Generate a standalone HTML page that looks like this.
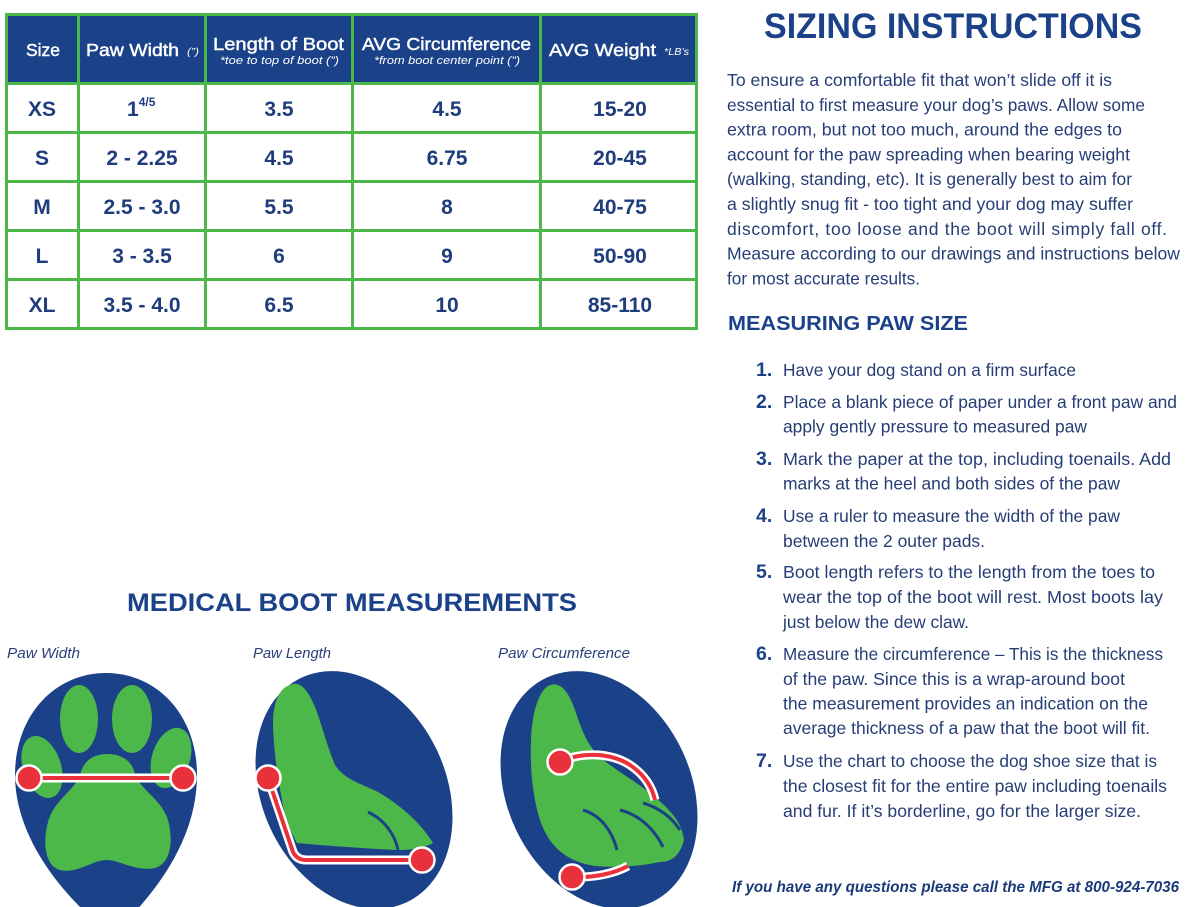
<!DOCTYPE html>
<html>
<head>
<meta charset="utf-8">
<style>
html,body{margin:0;padding:0;background:#fff;}
svg{display:block;}
text{font-family:"Liberation Sans",sans-serif;}
</style>
</head>
<body>
<svg width="1200" height="907" viewBox="0 0 1200 907" xmlns="http://www.w3.org/2000/svg">
<rect x="0" y="0" width="1200" height="907" fill="#ffffff"/>

<!-- TABLE -->
<rect x="5" y="13" width="693" height="317" fill="#4db84a"/>
<g fill="#1b4289">
<rect x="8" y="16" width="69" height="66"/>
<rect x="80" y="16" width="124" height="66"/>
<rect x="207" y="16" width="144" height="66"/>
<rect x="354" y="16" width="185" height="66"/>
<rect x="542" y="16" width="153" height="66"/>
</g>
<g fill="#ffffff">
<rect x="8" y="85" width="69" height="46"/><rect x="80" y="85" width="124" height="46"/><rect x="207" y="85" width="144" height="46"/><rect x="354" y="85" width="185" height="46"/><rect x="542" y="85" width="153" height="46"/>
<rect x="8" y="134" width="69" height="46"/><rect x="80" y="134" width="124" height="46"/><rect x="207" y="134" width="144" height="46"/><rect x="354" y="134" width="185" height="46"/><rect x="542" y="134" width="153" height="46"/>
<rect x="8" y="183" width="69" height="46"/><rect x="80" y="183" width="124" height="46"/><rect x="207" y="183" width="144" height="46"/><rect x="354" y="183" width="185" height="46"/><rect x="542" y="183" width="153" height="46"/>
<rect x="8" y="232" width="69" height="46"/><rect x="80" y="232" width="124" height="46"/><rect x="207" y="232" width="144" height="46"/><rect x="354" y="232" width="185" height="46"/><rect x="542" y="232" width="153" height="46"/>
<rect x="8" y="281" width="69" height="46"/><rect x="80" y="281" width="124" height="46"/><rect x="207" y="281" width="144" height="46"/><rect x="354" y="281" width="185" height="46"/><rect x="542" y="281" width="153" height="46"/>
</g>

<!-- header text -->
<g fill="#ffffff" stroke="#ffffff" stroke-width="0.45">
<text x="26" y="56" font-size="17.5" textLength="34" lengthAdjust="spacingAndGlyphs">Size</text>
<text x="86" y="56" font-size="17.5" textLength="93" lengthAdjust="spacingAndGlyphs">Paw Width</text>
<text x="213" y="50" font-size="17.5" textLength="131" lengthAdjust="spacingAndGlyphs">Length of Boot</text>
<text x="362" y="50" font-size="17.5" textLength="169" lengthAdjust="spacingAndGlyphs">AVG Circumference</text>
<text x="549" y="56" font-size="17.5" textLength="107" lengthAdjust="spacingAndGlyphs">AVG Weight</text>
</g>
<g fill="#ffffff">
<text x="187" y="55" font-size="10" font-style="italic" textLength="12" lengthAdjust="spacingAndGlyphs">(”)</text>
<text x="220" y="64" font-size="11" font-style="italic" textLength="119" lengthAdjust="spacingAndGlyphs">*toe to top of boot (”)</text>
<text x="374" y="64" font-size="11" font-style="italic" textLength="146" lengthAdjust="spacingAndGlyphs">*from boot center point (”)</text>
<text x="664" y="55" font-size="10" font-style="italic" textLength="25" lengthAdjust="spacingAndGlyphs">*LB’s</text>
</g>

<!-- body text -->
<g fill="#1f3c7c" font-size="21" font-weight="bold" text-anchor="middle">
<text x="42" y="116">XS</text>
<text x="279" y="116">3.5</text>
<text x="447" y="116">4.5</text>
<text x="620" y="116">15-20</text>

<text x="42" y="165">S</text>
<text x="142" y="165">2 - 2.25</text>
<text x="279" y="165">4.5</text>
<text x="447" y="165">6.75</text>
<text x="620" y="165">20-45</text>

<text x="42" y="214">M</text>
<text x="142" y="214">2.5 - 3.0</text>
<text x="279" y="214">5.5</text>
<text x="447" y="214">8</text>
<text x="620" y="214">40-75</text>

<text x="42" y="263">L</text>
<text x="142" y="263">3 - 3.5</text>
<text x="279" y="263">6</text>
<text x="447" y="263">9</text>
<text x="620" y="263">50-90</text>

<text x="42" y="312">XL</text>
<text x="142" y="312">3.5 - 4.0</text>
<text x="279" y="312">6.5</text>
<text x="447" y="312">10</text>
<text x="620" y="312">85-110</text>
</g>
<text x="127" y="116" fill="#1f3c7c" font-size="21" font-weight="bold">1<tspan font-size="12" dy="-10">4/5</tspan></text>

<!-- RIGHT SIDE -->
<text x="764" y="38" fill="#1b4289" font-size="35" font-weight="bold" textLength="378" lengthAdjust="spacingAndGlyphs">SIZING INSTRUCTIONS</text>

<g fill="#263d75" font-size="17.5">
<text x="727" y="86" textLength="385" lengthAdjust="spacingAndGlyphs">To ensure a comfortable fit that won’t slide off it is</text>
<text x="727" y="110.8" textLength="418" lengthAdjust="spacingAndGlyphs">essential to first measure your dog’s paws. Allow some</text>
<text x="727" y="135.6" textLength="395" lengthAdjust="spacingAndGlyphs">extra room, but not too much, around the edges to</text>
<text x="727" y="160.4" textLength="403" lengthAdjust="spacingAndGlyphs">account for the paw spreading when bearing weight</text>
<text x="727" y="185.2" textLength="405" lengthAdjust="spacingAndGlyphs">(walking, standing, etc). It is generally best to aim for</text>
<text x="727" y="210" textLength="406" lengthAdjust="spacingAndGlyphs">a slightly snug fit - too tight and your dog may suffer</text>
<text x="727" y="234.8" textLength="440" lengthAdjust="spacing">discomfort, too loose and the boot will simply fall off.</text>
<text x="727" y="259.6" textLength="453" lengthAdjust="spacingAndGlyphs">Measure according to our drawings and instructions below</text>
<text x="727" y="284.4" textLength="193" lengthAdjust="spacingAndGlyphs">for most accurate results.</text>
</g>

<text x="728" y="330" fill="#1b4289" font-size="20.5" font-weight="bold" textLength="240" lengthAdjust="spacingAndGlyphs">MEASURING PAW SIZE</text>

<g fill="#1b4289" font-size="19.5" font-weight="bold">
<text x="756" y="376">1.</text>
<text x="756" y="408">2.</text>
<text x="756" y="465">3.</text>
<text x="756" y="522">4.</text>
<text x="756" y="578">5.</text>
<text x="756" y="660">6.</text>
<text x="756" y="767">7.</text>
</g>

<g fill="#263d75" font-size="17.5">
<text x="783" y="376" textLength="293" lengthAdjust="spacingAndGlyphs">Have your dog stand on a firm surface</text>
<text x="783" y="408" textLength="394" lengthAdjust="spacingAndGlyphs">Place a blank piece of paper under a front paw and</text>
<text x="783" y="432.5" textLength="304" lengthAdjust="spacingAndGlyphs">apply gently pressure to measured paw</text>
<text x="783" y="465" textLength="388" lengthAdjust="spacingAndGlyphs">Mark the paper at the top, including toenails. Add</text>
<text x="783" y="489.5" textLength="337" lengthAdjust="spacingAndGlyphs">marks at the heel and both sides of the paw</text>
<text x="783" y="522" textLength="337" lengthAdjust="spacingAndGlyphs">Use a ruler to measure the width of the paw</text>
<text x="783" y="547" textLength="202" lengthAdjust="spacingAndGlyphs">between the 2 outer pads.</text>
<text x="783" y="578" textLength="372" lengthAdjust="spacingAndGlyphs">Boot length refers to the length from the toes to</text>
<text x="783" y="603" textLength="380" lengthAdjust="spacingAndGlyphs">wear the top of the boot will rest.  Most boots lay</text>
<text x="783" y="628" textLength="186" lengthAdjust="spacingAndGlyphs">just below the dew claw.</text>
<text x="783" y="660" textLength="380" lengthAdjust="spacingAndGlyphs">Measure the circumference – This is the thickness</text>
<text x="783" y="685" textLength="342" lengthAdjust="spacingAndGlyphs">of the paw.  Since this is a wrap-around boot</text>
<text x="783" y="709.5" textLength="365" lengthAdjust="spacingAndGlyphs">the measurement provides an indication on the</text>
<text x="783" y="734" textLength="367" lengthAdjust="spacingAndGlyphs">average thickness of a paw that the boot will fit.</text>
<text x="783" y="767" textLength="374" lengthAdjust="spacingAndGlyphs">Use the chart to choose the dog shoe size that is</text>
<text x="783" y="792" textLength="384" lengthAdjust="spacingAndGlyphs">the closest fit for the entire paw including toenails</text>
<text x="783" y="817" textLength="358" lengthAdjust="spacingAndGlyphs">and fur.  If it’s borderline, go for the larger size.</text>
</g>

<text x="732" y="892" fill="#1b3a78" font-size="15.5" font-weight="bold" font-style="italic" textLength="447" lengthAdjust="spacingAndGlyphs">If you have any questions please call the MFG at 800-924-7036</text>

<!-- MEDICAL BOOT MEASUREMENTS -->
<text x="127" y="611" fill="#1b4289" font-size="25" font-weight="bold" textLength="450" lengthAdjust="spacingAndGlyphs">MEDICAL BOOT MEASUREMENTS</text>

<g fill="#2a3f78" font-size="14.5" font-style="italic">
<text x="7" y="658" textLength="73" lengthAdjust="spacingAndGlyphs">Paw Width</text>
<text x="253" y="658" textLength="78" lengthAdjust="spacingAndGlyphs">Paw Length</text>
<text x="498" y="658" textLength="132" lengthAdjust="spacingAndGlyphs">Paw Circumference</text>
</g>

<!-- PAW 1 -->
<path d="M 15 775 C 15 715, 55 673, 106 673 C 157 673, 197 715, 197 775 C 197 840, 155 895, 112 935 C 66 900, 15 840, 15 775 Z" fill="#1b4289"/>
<g fill="#4db84a">
<ellipse cx="79" cy="719" rx="19" ry="34"/>
<ellipse cx="132" cy="719" rx="20" ry="34"/>
<ellipse cx="42" cy="767" rx="19" ry="32" transform="rotate(-18 42 767)"/>
<ellipse cx="171" cy="758" rx="19" ry="31" transform="rotate(18 171 758)"/>
<path d="M 107 754 C 123 754, 133 762, 135 775 C 141 790, 162 800, 168 820 C 174 842, 170 864, 155 868 C 135 872, 120 860, 107 860 C 92 860, 78 874, 60 870 C 44 866, 43 840, 48 822 C 54 800, 75 790, 80 775 C 83 762, 92 754, 107 754 Z"/>
</g>
<line x1="29" y1="778" x2="183" y2="778" stroke="#ffffff" stroke-width="9"/>
<line x1="29" y1="778" x2="183" y2="778" stroke="#e8313a" stroke-width="4"/>
<circle cx="29" cy="778" r="12.5" fill="#e8313a" stroke="#ffffff" stroke-width="2.5"/>
<circle cx="183" cy="778" r="12.5" fill="#e8313a" stroke="#ffffff" stroke-width="2.5"/>

<!-- PAW 2 -->
<ellipse cx="354" cy="790" rx="92" ry="124" transform="rotate(-25 354 790)" fill="#1b4289"/>
<path d="M 290 685 C 300 680, 308 690, 315 707 C 322 725, 325 740, 335 765 C 345 780, 360 783, 378 792 C 400 805, 420 822, 433 843 C 420 850, 405 850, 395 850 C 360 848, 330 846, 297 843 C 290 830, 285 820, 282 800 C 276 770, 273 740, 273 720 C 274 700, 280 688, 290 685 Z" fill="#4db84a"/>
<path d="M 368 812 C 385 820, 395 835, 398 850" fill="none" stroke="#1b4289" stroke-width="3"/>
<path d="M 268 778 L 293 852 Q 297 860 306 860 L 422 860" fill="none" stroke="#ffffff" stroke-width="9" stroke-linejoin="round"/>
<path d="M 268 778 L 293 852 Q 297 860 306 860 L 422 860" fill="none" stroke="#e8313a" stroke-width="4" stroke-linejoin="round"/>
<circle cx="268" cy="778" r="12.5" fill="#e8313a" stroke="#ffffff" stroke-width="2.5"/>
<circle cx="422" cy="860" r="12.5" fill="#e8313a" stroke="#ffffff" stroke-width="2.5"/>

<!-- PAW 3 -->
<ellipse cx="599" cy="790" rx="92" ry="124" transform="rotate(-25 599 790)" fill="#1b4289"/>
<path d="M 550 685 C 560 682, 568 690, 575 710 C 580 725, 585 740, 595 752 C 610 768, 635 780, 655 797 C 670 810, 682 822, 684 840 C 680 855, 672 862, 660 862 C 640 866, 620 868, 595 866 C 570 862, 550 850, 540 820 C 532 795, 530 765, 531 740 C 532 715, 538 690, 550 685 Z" fill="#4db84a"/>
<g fill="none" stroke="#1b4289" stroke-width="3">
<path d="M 583 810 C 600 815, 612 830, 617 850"/>
<path d="M 620 810 C 640 815, 655 830, 663 847"/>
<path d="M 643 803 C 660 808, 672 818, 680 830"/>
</g>
<path d="M 560 762 C 580 752, 610 752, 630 765 C 645 775, 652 787, 655 800" fill="none" stroke="#ffffff" stroke-width="9"/>
<path d="M 560 762 C 580 752, 610 752, 630 765 C 645 775, 652 787, 655 800" fill="none" stroke="#e8313a" stroke-width="4"/>
<path d="M 572 877 C 595 878, 615 873, 628 866" fill="none" stroke="#ffffff" stroke-width="9"/>
<path d="M 572 877 C 595 878, 615 873, 628 866" fill="none" stroke="#e8313a" stroke-width="4"/>
<circle cx="560" cy="762" r="12.5" fill="#e8313a" stroke="#ffffff" stroke-width="2.5"/>
<circle cx="572" cy="877" r="12.5" fill="#e8313a" stroke="#ffffff" stroke-width="2.5"/>
</svg>
</body>
</html>
